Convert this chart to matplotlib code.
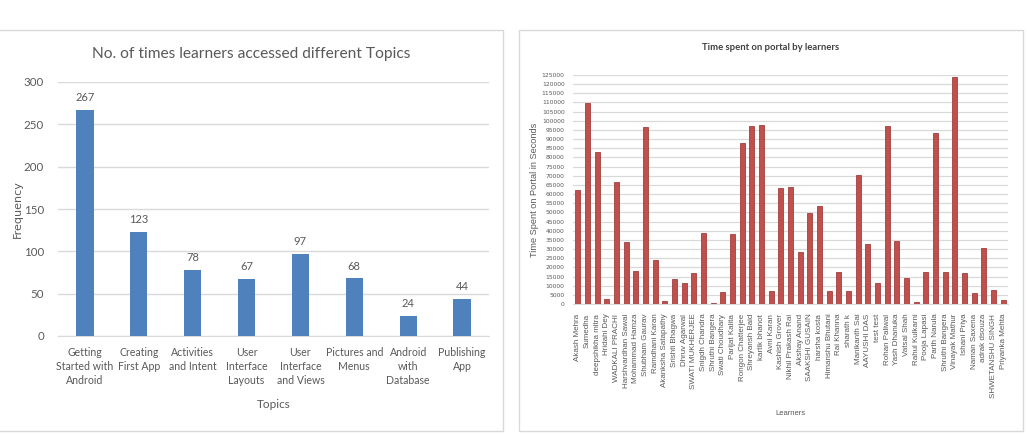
import numpy as np
import matplotlib
matplotlib.use('Agg')
import matplotlib.pyplot as plt
from matplotlib.patches import Rectangle

# Dados - gráfico da esquerda
topics = ['Getting\nStarted with\nAndroid', 'Creating\nFirst App', 'Activities\nand Intent',
          'User\nInterface\nLayouts', 'User\nInterface\nand Views', 'Pictures and\nMenus',
          'Android\nwith\nDatabase', 'Publishing\nApp']
frequency = [267, 123, 78, 67, 97, 68, 24, 44]

# Dados - gráfico da direita
learners = ['Akash Mehra', 'Sumedha', 'deepshikha mitra', 'Hridahi Dey', 'WADKALI PRACHI',
            'Harshvardhan Sawal', 'Mohammad Hamza', 'Shubham Gaurav', 'Ramdhani Karan',
            'Akanksha Satapathy', 'Srishti Bhagwa', 'Dhruv Agarwal', 'SWATI MUKHERJEE',
            'Snigdh Chandra', 'Shruthi Bangera', 'Swati Choudhary', 'Parijat Kalita',
            'Rongon Chatterjee', 'Shreyansh Baid', 'kartik bhanot', 'Avni Karan',
            'Kashish Grover', 'Nikhil Prakash Rai', 'Akshay Anand', 'SAAKSHI GUSAIN',
            'harsha kosta', 'Himanshu Bhutani', 'Rai Khanna', 'sharath k', 'Manikanth Sai',
            'AAYUSHI DAS', 'test test', 'Rohan Paliwal', 'Yash Dhanuka', 'Vatsal Shah',
            'Rahul Kulkarni', 'Pooja Lapasi', 'Parth Narula', 'Shruthi Bangera',
            'Vinayak Mathur', 'Ishani Priya', 'Naman Saxena', 'adrak dsouza',
            'SHWETANSHU SINGH', 'Priyanka Mehta']
time_spent = [62300, 109600, 82700, 3000, 66500, 33600, 18000, 96500, 24000,
              1800, 13600, 11300, 16700, 38500, 600, 6400, 38200, 87900, 97000,
              97800, 7300, 63200, 63600, 28200, 49400, 53600, 7300, 17400, 7300,
              70500, 32700, 11600, 97000, 34200, 14000, 1000, 17400, 93600, 17400,
              123700, 16700, 6000, 30500, 7600, 2200]

text_gray = '#595959'
grid_gray = '#D9D9D9'

fig = plt.figure(figsize=(10.27, 4.34), dpi=100)
W, H = 1027, 434

def frac(x0, y0, x1, y1):
    return [x0 / W, (H - y1) / H, (x1 - x0) / W, (y1 - y0) / H]

# Molduras dos painéis
fig.patches.append(Rectangle((-0.01, 1 - 431 / H), 503 / W + 0.01, 401 / H,
                             transform=fig.transFigure, fill=False,
                             edgecolor='#D9D9D9', linewidth=1))
fig.patches.append(Rectangle((519 / W, 1 - 431 / H), 504 / W, 401 / H,
                             transform=fig.transFigure, fill=False,
                             edgecolor='#D9D9D9', linewidth=1))

# Gráfico da esquerda
ax1 = fig.add_axes(frac(58, 82, 489, 336))
x1 = np.arange(len(topics))
ax1.bar(x1, frequency, width=0.32, color='#4F81BD', zorder=3)
for xi, v in zip(x1, frequency):
    ax1.text(xi, v + 8, str(v), ha='center', va='bottom', fontsize=8, color=text_gray,
             family='Lato')
ax1.set_xlim(-0.5, len(topics) - 0.5)
ax1.set_ylim(0, 300)
ax1.set_yticks(range(0, 301, 50))
ax1.set_xticks(x1)
ax1.set_xticklabels(topics, fontsize=7.6, color=text_gray, family='Lato', linespacing=1.3)
ax1.tick_params(axis='y', labelsize=8.3, labelcolor=text_gray, length=0, pad=10)
ax1.tick_params(axis='x', length=0, pad=8)
for lbl in ax1.get_yticklabels():
    lbl.set_family('Lato')
ax1.yaxis.grid(True, color=grid_gray, linewidth=1, zorder=0)
for s in ['top', 'right', 'left']:
    ax1.spines[s].set_visible(False)
ax1.spines['bottom'].set_color(grid_gray)
ax1.set_ylabel('Frequency', fontsize=8, color=text_gray)
ax1.yaxis.set_label_coords(-0.081, 0.5)
ax1.set_xlabel('Topics', fontsize=8.5, color=text_gray, family='Lato', labelpad=10)
fig.text(251 / W, 1 - 54 / H, 'No. of times learners accessed different Topics',
         ha='center', va='center', fontsize=11.2, color=text_gray, family='Lato')

# Gráfico da direita
ax2 = fig.add_axes(frac(573, 75, 1008, 304))
x2 = np.arange(len(learners))
ax2.bar(x2, time_spent, width=0.5, color='#C0504D', edgecolor='#A33F3C',
        linewidth=0.6, zorder=3)
ax2.set_xlim(-0.5, len(learners) - 0.5)
ax2.set_ylim(0, 125000)
ax2.set_yticks(range(0, 125001, 5000))
ax2.set_xticks(x2)
ax2.set_xticklabels(learners, rotation=90, fontsize=5.8, color=text_gray,
                    family='Liberation Sans')
ax2.tick_params(axis='y', labelsize=4.3, labelcolor=text_gray, length=0, pad=6)
ax2.tick_params(axis='x', length=0, pad=7)
ax2.yaxis.grid(True, color=grid_gray, linewidth=0.9, zorder=0)
for s in ['top', 'right', 'left']:
    ax2.spines[s].set_visible(False)
ax2.spines['bottom'].set_color(grid_gray)
ax2.set_ylabel('Time Spent on Portal in Seconds', fontsize=6.6, color=text_gray,
               family='Liberation Sans')
ax2.yaxis.set_label_coords(-0.079, 0.5)
ax2.set_xlabel('Learners', fontsize=5.5, color=text_gray, family='Liberation Sans',
               labelpad=9)
fig.text(771 / W, 1 - 48 / H, 'Time spent on portal by learners', ha='center',
         va='center', fontsize=6.8, color='#404040', family='Lato', fontweight='bold')

fig.savefig('out.png', dpi=100)
